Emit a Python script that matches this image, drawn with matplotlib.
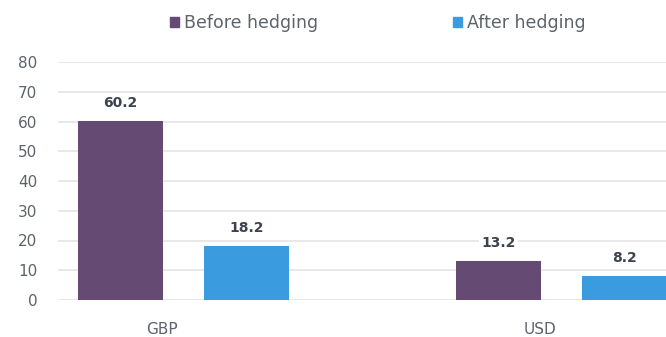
import matplotlib.pyplot as plt
from matplotlib.patches import Patch
import numpy as np

# chart data
currencies = ["GBP", "USD"]
before_hedging = [60.2, 13.2]
after_hedging = [18.2, 8.2]
series_names = ["Before hedging", "After hedging"]
yticks = [0, 10, 20, 30, 40, 50, 60, 70, 80]

purple = "#654a73"
blue = "#3a9bdf"
text_grey = "#5d636b"
label_dark = "#3b4350"

plt.rcParams['font.family'] = ['DejaVu Sans']

fig = plt.figure(figsize=(6.66, 3.37), dpi=100)
ax = fig.add_axes([58/666, 1 - 300/337, 1 - 58/666, (300 - 62)/337])

x = np.arange(len(currencies))
w = 0.225
b1 = ax.bar(x - 0.11, before_hedging, w, color=purple, zorder=2)
b2 = ax.bar(x + 0.223, after_hedging, w, color=blue, zorder=2)

for bars, vals in [(b1, before_hedging), (b2, after_hedging)]:
    for bar, v in zip(bars, vals):
        ax.text(bar.get_x() + bar.get_width() / 2, v + 3.6, "{:.1f}".format(v),
                ha="center", va="bottom", fontsize=10, fontweight="bold",
                color=label_dark, zorder=3,
                bbox=dict(facecolor="white", edgecolor="none", pad=2))

ax.set_xlim(-0.275, 1.333)
ax.set_ylim(0, 80)
ax.set_yticks(yticks)
ax.set_xticks(x)
ax.set_xticklabels(currencies)
ax.tick_params(axis="both", length=0, labelsize=11, colors=text_grey)
ax.tick_params(axis="y", pad=15)
ax.tick_params(axis="x", pad=16)
ax.grid(axis="y", color="#e6e6e6", linewidth=1.3, zorder=0)
for s in ax.spines.values():
    s.set_visible(False)

handles = [Patch(color=purple), Patch(color=blue)]
fig.legend(handles, series_names, loc="upper left", bbox_to_anchor=(170/666, 0.958),
           ncol=2, frameon=False, fontsize=12.5, labelcolor=text_grey,
           borderpad=0, borderaxespad=0,
           handlelength=0.5, handleheight=0.5, handletextpad=0.3,
           columnspacing=7.8)

fig.savefig("out.png", dpi=100)
